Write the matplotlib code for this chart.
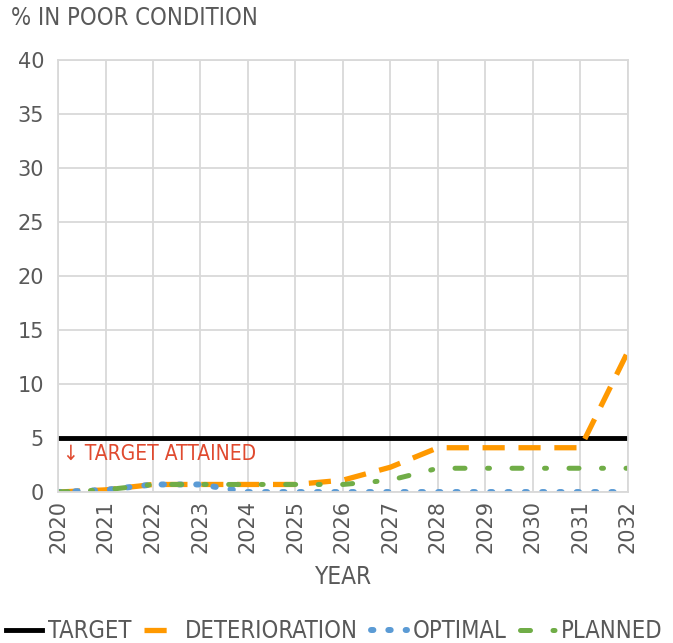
import matplotlib.pyplot as plt

plt.rcParams["font.family"] = ["DejaVu Sans"]
plt.rcParams["lines.dash_capstyle"] = "round"

years = [2020, 2021, 2022, 2023, 2024, 2025, 2026, 2027, 2028, 2029, 2030, 2031, 2032]
target = [5] * 13
deterioration = [0, 0.2, 0.7, 0.7, 0.7, 0.7, 1.1, 2.3, 4.1, 4.1, 4.1, 4.1, 13]
optimal = [0, 0.2, 0.7, 0.7, 0, 0, 0, 0, 0, 0, 0, 0, 0]
planned = [0, 0.2, 0.7, 0.7, 0.7, 0.7, 0.7, 1.1, 2.2, 2.2, 2.2, 2.2, 2.2]

grey = "#595959"
fig = plt.figure(figsize=(6.73, 6.43), dpi=100)
ax = fig.add_axes([0.0862, 0.2348, 0.8468, 0.672])

ax.plot(years, target, color="black", lw=3.5, label="TARGET")
ax.plot(years, deterioration, color="#ff9900", lw=3.8, linestyle=(0, (4.2, 2.6)),
        dash_capstyle="butt", label="DETERIORATION")
ax.plot(years, optimal, color="#5b9bd5", lw=4.3, linestyle=(0, (0.4, 2.5)), label="OPTIMAL")
ax.plot(years, planned, color="#70ad47", lw=3.6, linestyle=(0, (2, 4.5, 0.4, 4.5)), label="PLANNED")

ax.text(2020.1, 3.5, "↓ TARGET ATTAINED", color="#e04a2f", fontsize=15,
        fontstretch="condensed", va="center")

ax.set_xlim(2020, 2032)
ax.set_ylim(0, 40)
ax.set_xticks(years)
ax.set_xticklabels([str(y) for y in years], rotation=90)
ax.set_yticks(range(0, 41, 5))
ax.grid(True, color="#d9d9d9", lw=1.3)
ax.set_axisbelow(True)
for s in ax.spines.values():
    s.set_color("#d9d9d9")
    s.set_linewidth(1.3)
ax.tick_params(length=0, colors=grey, labelsize=15)
ax.tick_params(axis="y", pad=10)
ax.tick_params(axis="x", pad=6)
ax.set_xlabel("YEAR", color=grey, fontsize=17.5, fontstretch="condensed", labelpad=8)
fig.text(0.017, 0.972, "% IN POOR CONDITION", color=grey, fontsize=17,
         fontstretch="condensed", va="center")

leg = ax.legend(loc="upper center", bbox_to_anchor=(0.485, -0.245), ncol=4, frameon=False,
                prop={"size": 17, "stretch": "condensed"}, labelcolor=grey,
                handlelength=1.5, handletextpad=0.25, columnspacing=0.55)

fig.savefig("out.png", dpi=100)
